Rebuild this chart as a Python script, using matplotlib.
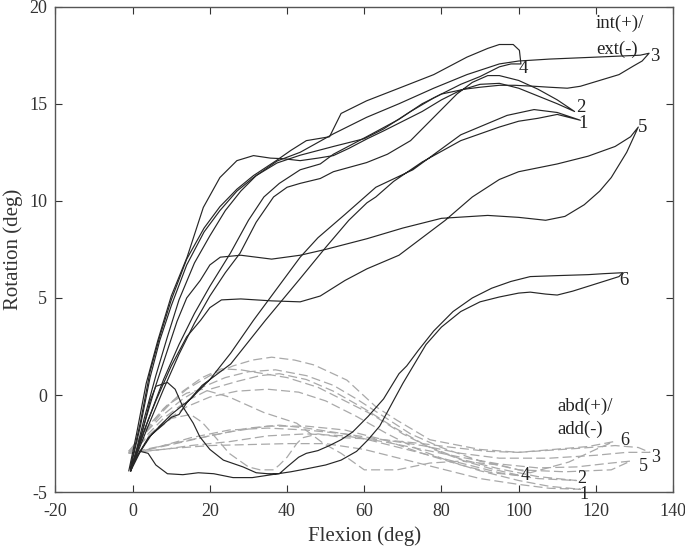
import matplotlib
matplotlib.use("Agg")
import matplotlib.pyplot as plt

plt.rcParams['font.family'] = ['Liberation Serif', 'DejaVu Serif']
plt.rcParams['lines.scale_dashes'] = False
plt.rcParams['axes.unicode_minus'] = False

# ---------------- data: rotation (int/ext) loops ----------------
rot1_x = [-0.5, 1, 4, 8, 10, 12, 14, 18, 25.4, 34.4, 43.4, 50, 56, 60.7, 63, 67.6, 75, 85, 95, 100, 105, 110, 116,
          110, 104, 97, 85, 72.6, 63, 55, 48, 43.4, 31.3, 25.4, 20, 15, 10, 5, 1, -0.5]
rot1_y = [-3.8, -3.2, -2.2, -1.5, -1.15, -1.0, -0.4, 0.5, 1.6, 3.85, 6.0, 7.6, 9.0, 9.9, 10.2, 11.0, 12.0, 13.1, 13.8, 14.1, 14.25, 14.45, 14.15,
          14.55, 14.7, 14.4, 13.4, 11.6, 10.7, 9.3, 8.1, 7.1, 3.85, 2.16, 0.8, -0.2, -1.0, -2.0, -3.2, -3.8]

rot2_x = [-1, 1, 3.5, 6.5, 10, 14.1, 18.3, 22.6, 27, 31.3, 35.7, 39, 43.4, 48, 52, 56, 60.8, 65, 69, 75, 80, 85, 90, 95, 100, 105, 110, 114.5,
          110, 105, 100, 95, 92, 88, 84, 78, 72, 66, 60.6, 52, 48.6, 43.4, 40, 36.5, 32, 27.8, 24, 20, 16, 12, 8, 4, 1, -0.5]
rot2_y = [-3.9, -2.0, 0.6, 2.8, 5.1, 7.1, 9.66, 11.2, 12.07, 12.33, 12.2, 12.17, 12.07, 12.2, 12.33, 12.7, 13.2, 13.6, 14.0, 14.6, 15.2, 15.7, 16.0, 16.05, 15.8, 15.4, 15.0, 14.6,
          15.2, 15.75, 16.2, 16.45, 16.45, 16.1, 15.5, 14.3, 13.1, 12.4, 11.97, 11.5, 11.15, 10.9, 10.7, 10.2, 8.9, 7.3, 6.3, 5.1, 3.7, 2.1, 0.3, -1.6, -3.1, -3.8]

rot3_x = [-0.5, 2, 4.5, 7, 10, 14, 18.5, 22.6, 27, 31.3, 37.4, 43.4, 52, 60.6, 69, 78, 86.6, 95, 100, 108, 120, 131.5, 133.8,
          132, 129.8, 126, 121, 116, 112.6, 108, 104, 99, 95, 90, 86, 80, 75, 69, 60.6, 52, 48.6, 43.4, 38, 34, 30, 25.3, 20, 16, 12, 8, 4, 1, -0.5]
rot3_y = [-3.7, -1.6, 0.9, 2.8, 4.6, 6.7, 8.4, 9.5, 10.5, 11.2, 12.05, 12.5, 13.45, 14.3, 15.0, 15.8, 16.5, 17.05, 17.2, 17.3, 17.4, 17.5, 17.6,
          17.2, 16.95, 16.5, 16.2, 15.9, 15.8, 15.85, 15.9, 15.95, 15.95, 15.85, 15.75, 15.5, 15.0, 14.2, 13.3, 12.4, 11.9, 11.6, 10.9, 10.2, 9.0, 7.3, 5.6, 4.2, 2.6, 0.8, -1.3, -3.0, -3.7]

rot4_x = [-0.5, 2, 4.5, 7, 10, 14, 18.5, 22.6, 27, 31.3, 37.4, 41, 45, 49.5, 51, 54, 60.6, 69, 78, 86.6, 92, 95, 98.6, 100.2, 100.6,
          98, 95, 90, 85, 78, 72, 65, 60, 52, 43.4, 37.4, 32, 28, 24, 20, 16, 12, 9, 6, 3, 1, -0.5]
rot4_y = [-3.6, -1.4, 1.2, 3.0, 4.9, 7.0, 8.6, 9.7, 10.6, 11.3, 12.1, 12.6, 13.1, 13.25, 13.3, 14.5, 15.15, 15.8, 16.5, 17.4, 17.85, 18.05, 18.05, 17.75, 17.05,
          17.05, 16.9, 16.4, 16.0, 15.3, 14.6, 13.7, 13.2, 12.8, 12.35, 11.95, 11.3, 10.5, 9.5, 8.2, 6.8, 4.9, 3.0, 1.0, -1.2, -2.8, -3.8]

rot5_x = [-0.5, 3, 6, 9, 11.5, 14, 17.5, 20, 22.7, 28, 36, 43.4, 50, 60.7, 70, 80, 92, 100, 107, 112, 117, 121, 124, 128, 131,
          129, 125, 118, 110, 100, 95, 88, 81, 75, 69, 60.7, 55, 48.6, 43.4, 36, 28, 23, 20, 17.6, 14, 10, 6, 3, 0.5, -0.5]
rot5_y = [-3.9, -1.5, 0.5, 2.3, 3.8, 5.0, 5.9, 6.7, 7.1, 7.2, 7.0, 7.2, 7.5, 8.05, 8.6, 9.1, 9.25, 9.15, 9.0, 9.2, 9.8, 10.5, 11.2, 12.5, 13.8,
          13.3, 12.8, 12.3, 11.9, 11.5, 11.1, 10.2, 9.0, 8.1, 7.2, 6.5, 5.9, 5.1, 4.8, 4.85, 4.95, 4.9, 4.5, 3.85, 3.0, 1.5, -0.3, -1.8, -3.3, -3.9]

rot6_x = [-0.5, 2, 4, 6, 9, 13, 17, 21, 26, 31, 36, 41, 45, 50, 54, 58, 61, 64, 67, 70, 73, 76, 80, 85, 90, 95, 100, 103, 107, 110, 114, 118, 122, 126,
          127, 122, 118, 110, 103, 98, 93, 88, 83, 78, 74, 71, 69, 65, 61, 57, 54, 51, 48, 45, 43, 40, 38, 35, 32, 28.6, 23.5, 20, 17.4, 15.7, 13, 11, 9, 6, 4.5, 3, 1, -0.5]
rot6_y = [-3.9, -2.9, -3.0, -3.6, -4.05, -4.1, -4.0, -4.05, -4.25, -4.25, -4.1, -3.95, -3.8, -3.6, -3.35, -2.9, -2.3, -1.6, -0.5, 0.6, 1.6, 2.6, 3.5, 4.3, 4.8, 5.05, 5.25, 5.3, 5.2, 5.15, 5.35, 5.6, 5.85, 6.1,
          6.3, 6.25, 6.2, 6.15, 6.1, 5.85, 5.5, 5.0, 4.3, 3.3, 2.3, 1.5, 1.1, -0.2, -1.1, -1.9, -2.3, -2.6, -2.86, -3.0, -3.2, -3.7, -4.05, -4.05, -4.0, -3.7, -3.35, -2.8, -2.15, -1.45, -0.6, 0.3, 0.65, 0.45, -0.3, -1.5, -3.0, -3.9]

# ---------------- data: abduction/adduction loops ----------------
abd1_x = [-1, 3, 8, 14, 20, 27, 35, 43, 50, 58, 66, 74, 82, 90, 100, 108, 116,
          108, 100, 90, 80, 70, 60, 50, 40, 30, 20, 10, 3, -1]
abd1_y = [-3.0, -2.3, -1.4, -0.6, -0.1, 0.2, 0.3, 0.15, -0.3, -1.1, -2.0, -2.8, -3.4, -3.9, -4.4, -4.7, -4.85,
          -4.8, -4.6, -4.3, -3.8, -3.3, -2.8, -2.5, -2.5, -2.55, -2.6, -2.75, -2.9, -3.0]

abd2_x = [-1, 3, 8, 14, 20, 27, 33, 38, 45, 52, 60, 68, 76, 85, 95, 105, 115,
          105, 95, 85, 75, 65, 55, 45, 38, 30, 20, 10, 3, -1]
abd2_y = [-3.0, -2.2, -1.2, -0.3, 0.3, 0.7, 1.0, 1.1, 0.8, 0.2, -0.7, -1.7, -2.6, -3.3, -3.8, -4.2, -4.4,
          -4.3, -4.0, -3.5, -3.0, -2.5, -2.0, -1.7, -1.55, -1.7, -2.1, -2.55, -2.85, -3.0]

abd3_x = [-1, 3, 8, 14, 20, 26, 31, 36, 42, 47, 55.5, 63, 68.5, 77, 90, 100, 115, 125, 131, 134,
          128, 120, 108, 95, 85, 75, 65, 55, 45, 35, 25, 15, 8, 2, -1]
abd3_y = [-2.9, -1.9, -0.7, 0.3, 1.0, 1.5, 1.8, 1.95, 1.8, 1.55, 0.77, -0.6, -1.3, -2.3, -2.8, -2.95, -2.75, -2.6, -2.7, -2.95,
          -2.95, -3.1, -3.25, -3.25, -3.0, -2.6, -2.3, -2.0, -1.8, -1.7, -1.8, -2.2, -2.6, -2.9, -3.0]

abd4_x = [-1, 3, 8, 13, 18, 23, 28, 34, 40, 48, 55, 62, 70, 78, 86, 93, 100.5,
          93, 85, 75, 65, 55, 45, 35, 25, 15, 8, 2, -1]
abd4_y = [-2.9, -2.0, -0.8, 0.2, 0.9, 1.35, 1.3, 1.1, 0.9, 0.4, -0.3, -1.0, -2.0, -2.8, -3.4, -3.8, -4.15,
          -4.0, -3.6, -3.0, -2.3, -1.8, -1.6, -1.6, -1.9, -2.3, -2.6, -2.85, -2.9]

abd5_x = [-1, 3, 8, 13, 18, 24, 30, 37, 45, 52, 58, 65, 72, 80, 90, 100, 112, 124, 129,
          124, 115, 105, 95, 85, 75, 65, 55, 45, 35, 25, 15, 8, 2, -1]
abd5_y = [-2.9, -2.0, -1.0, -0.2, 0.4, 0.9, 1.2, 1.3, 1.0, 0.5, -0.2, -1.1, -2.0, -2.7, -3.4, -3.85, -3.95, -3.85, -3.4,
          -3.5, -3.7, -3.75, -3.55, -3.2, -2.8, -2.4, -2.1, -2.0, -2.1, -2.4, -2.6, -2.8, -2.9, -3.0]

abd6_x = [-1, 4, 9, 14, 18, 25, 34, 42.5, 49.5, 54, 60, 68.5, 77, 85, 95, 103, 113, 120, 124.6,
          118, 109, 100, 92, 83, 75, 65, 55, 48, 44, 42.5, 40, 38, 36.5, 33, 30, 25, 22, 18, 15, 10, 5, -1]
abd6_y = [-3.0, -1.6, -0.5, 0.1, 0.3, -0.1, -0.9, -1.45, -2.5, -3.0, -3.85, -3.85, -3.5, -3.4, -3.6, -4.0, -3.45, -2.8, -2.4,
          -2.65, -2.8, -2.95, -2.9, -2.7, -2.5, -2.3, -2.2, -2.0, -2.2, -2.5, -3.2, -3.6, -3.85, -3.85, -3.7, -3.0, -2.3, -1.4, -1.0, -1.2, -2.0, -3.0]

rot_loops = [(rot1_x, rot1_y), (rot2_x, rot2_y), (rot3_x, rot3_y),
             (rot4_x, rot4_y), (rot5_x, rot5_y), (rot6_x, rot6_y)]
abd_loops = [(abd1_x, abd1_y), (abd2_x, abd2_y), (abd3_x, abd3_y),
             (abd4_x, abd4_y), (abd5_x, abd5_y), (abd6_x, abd6_y)]

# curve number labels: (text, x, y)
rot_labels = [("1", 116.8, 14.0), ("2", 116.0, 14.8), ("3", 135.3, 17.45),
              ("4", 101.2, 16.8), ("5", 132.2, 13.8), ("6", 127.3, 5.9)]
abd_labels = [("6", 127.6, -2.35), ("3", 135.4, -3.2), ("5", 132.4, -3.7),
              ("4", 101.7, -4.15), ("2", 116.3, -4.3), ("1", 117.0, -5.1)]

x_ticks = [-20, 0, 20, 40, 60, 80, 100, 120, 140]
y_ticks = [-5, 0, 5, 10, 15, 20]

# ---------------- figure ----------------
fig = plt.figure(figsize=(6.85, 5.53), dpi=100)
ax = fig.add_axes([0.081, 0.110, 0.9015, 0.878])

for xs, ys in abd_loops:
    ax.plot(xs, ys, color='#a9a9a9', lw=0.9, dashes=(6.5, 3.0))
for xs, ys in rot_loops:
    ax.plot(xs, ys, color='#262626', lw=0.85)

lfs = 13.5
for t, x, y in rot_labels:
    ax.text(x, y, t, fontsize=lfs, ha='center', va='center', color='#222222', clip_on=False)
for t, x, y in abd_labels:
    ax.text(x, y, t, fontsize=13, ha='center', va='center', color='#222222', clip_on=False)

ax.text(120.0, 19.15, "int(+)/", fontsize=lfs, ha='left', va='center', color='#222222')
ax.text(120.0, 17.8, "ext(-)", fontsize=lfs, ha='left', va='center', color='#222222')
ax.text(110.0, -0.6, "abd(+)/", fontsize=lfs, ha='left', va='center', color='#222222')
ax.text(110.0, -1.75, "add(-)", fontsize=lfs, ha='left', va='center', color='#222222')

ax.set_xlim(-20, 140)
ax.set_ylim(-5, 20)
ax.set_xticks(x_ticks)
ax.set_yticks(y_ticks)
ax.tick_params(direction='in', top=True, right=True, length=5, width=0.8,
               labelsize=13, colors='#333333')
ax.tick_params(axis='x', pad=8)
ax.tick_params(axis='y', pad=6)
for s in ax.spines.values():
    s.set_color('#555555')
    s.set_linewidth(1.0)

ax.set_xlabel("Flexion (deg)", fontsize=15, color='#333333', labelpad=4)
ax.set_ylabel("Rotation (deg)", fontsize=15, color='#333333', labelpad=4)

fig.savefig("out.png", dpi=100)
